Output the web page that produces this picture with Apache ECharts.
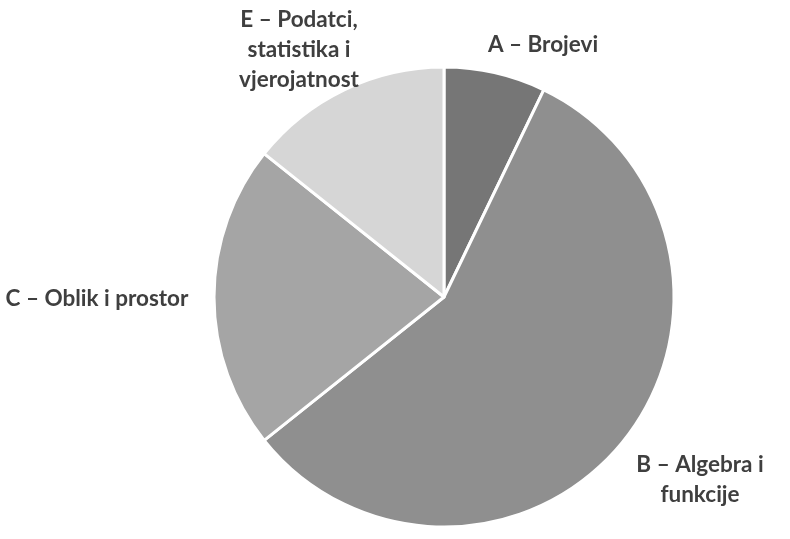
<!DOCTYPE html>
<html><head><meta charset="utf-8">
<script src="https://cdn.jsdelivr.net/npm/echarts@6/dist/echarts.min.js"></script>
<style>html,body{margin:0;padding:0;background:#fff}#c{width:790px;height:539px}</style>
</head><body><div id="c"></div>
<script>
const categories = ['A – Brojevi', 'B – Algebra i\nfunkcije', 'C – Oblik i prostor', 'E – Podatci,\nstatistika i\nvjerojatnost'];
const values = [1, 8, 3, 2];
const colors = ['#767676', '#8f8f8f', '#a5a5a5', '#d6d6d6'];
const labelPos = [[543, 45], [700, 480], [97, 299], [299, 50]];

const chart = echarts.init(document.getElementById('c'));
chart.setOption({
  animation: false,
  series: [{
    type: 'pie',
    center: [444, 297],
    radius: 230,
    startAngle: 90,
    clockwise: true,
    data: categories.map((n, i) => ({name: n, value: values[i], itemStyle: {color: colors[i]}})),
    itemStyle: {borderColor: '#fff', borderWidth: 3},
    label: {show: true, position: 'outside', color: '#3f3f3f', fontFamily: 'Lato', fontWeight: 'bold', fontSize: 22.5, lineHeight: 30, align: 'center', formatter: '{b}', overflow: 'none', width: 300},
    labelLine: {show: false},
    labelLayout: p => ({x: labelPos[p.dataIndex][0], y: labelPos[p.dataIndex][1], align: 'center', verticalAlign: 'middle'}),
    emphasis: {disabled: true}
  }]
});
</script></body></html>
